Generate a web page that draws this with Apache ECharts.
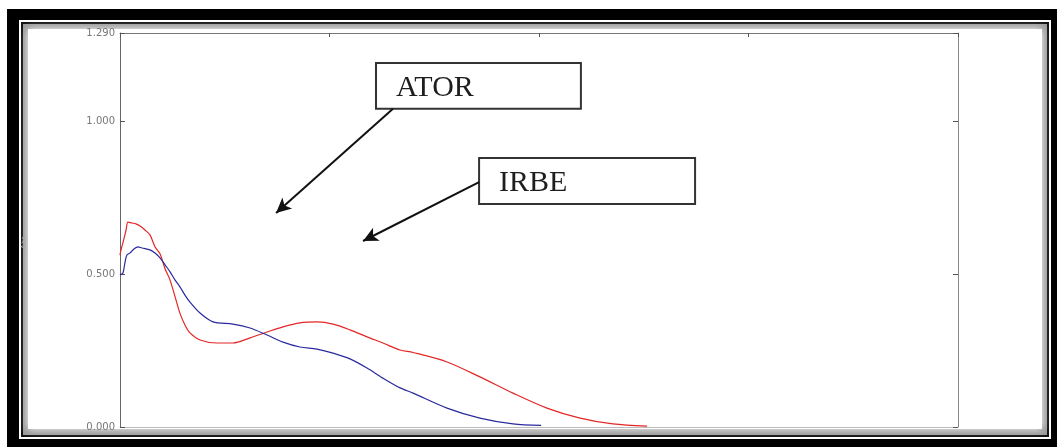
<!DOCTYPE html>
<html>
<head>
<meta charset="utf-8">
<script src="https://cdn.jsdelivr.net/npm/echarts@6/dist/echarts.min.js"></script>
<style>
  html, body { margin: 0; padding: 0; background: #fff; }
  #chart { width: 1057px; height: 447px; }
</style>
</head>
<body>
<div id="chart"></div>
<script>
// Absorbance traces of the two samples
const atorX = [0, 0.5, 1.4, 2.9, 3.8, 5.7, 7.6, 9.6, 11.9, 14.3, 16.7, 19.1, 21.5, 23.9, 26.3, 28.6, 31.0, 33.4, 38.2, 46.3, 53.9, 62.1, 70.2, 77.8, 85.9, 94.0, 101.7, 109.8, 117.9, 125.5, 133.7, 139.9, 156.1, 171.8, 187.6, 203.8, 219.6, 235.3, 251.6];
const atorY = [0.563, 0.580, 0.603, 0.645, 0.671, 0.668, 0.665, 0.658, 0.645, 0.629, 0.590, 0.567, 0.518, 0.481, 0.426, 0.373, 0.334, 0.308, 0.285, 0.275, 0.275, 0.292, 0.311, 0.328, 0.341, 0.344, 0.337, 0.318, 0.295, 0.275, 0.252, 0.244, 0.213, 0.164, 0.111, 0.062, 0.029, 0.010, 0.003];

const irbeX = [0, 1.4, 2.4, 3.3, 4.8, 6.7, 8.6, 10.5, 14.3, 16.7, 19.1, 21.5, 23.9, 26.3, 28.6, 31.0, 33.4, 38.2, 44.4, 53.9, 62.1, 70.2, 77.8, 85.9, 94.0, 101.7, 109.8, 117.9, 125.5, 133.7, 139.9, 156.1, 171.8, 187.6, 201.0];
const irbeY = [0.498, 0.504, 0.540, 0.563, 0.570, 0.583, 0.590, 0.586, 0.580, 0.570, 0.554, 0.531, 0.508, 0.481, 0.459, 0.432, 0.409, 0.373, 0.344, 0.337, 0.324, 0.301, 0.278, 0.262, 0.255, 0.242, 0.223, 0.193, 0.160, 0.128, 0.111, 0.062, 0.029, 0.010, 0.005];

const xTicks = { min: 0, max: 400, interval: 100 };
const yTicks = { min: 0, max: 1.29, interval: 0.5 };

// Callout boxes and arrows, in data units
const atorBox = [[122.2, 1.192], [220.0, 1.042]];
const atorArrow = [[130.3, 1.042], [74.5, 0.701]];
const irbeBox = [[171.4, 0.881], [274.5, 0.730]];
const irbeArrow = [[171.4, 0.802], [116.0, 0.609]];

const zip = (xs, ys) => xs.map((x, i) => [x, ys[i]]);

function callout(box, arrow, text) {
  return {
    markArea: {
      silent: true,
      itemStyle: { color: '#fff', borderColor: '#333', borderWidth: 2 },
      label: {
        show: true, position: 'insideLeft', offset: [16, 2],
        fontFamily: 'Liberation Serif', fontSize: 30, color: '#1e1e1e'
      },
      data: [[{ name: text, coord: box[0] }, { coord: box[1] }]]
    },
    markLine: {
      silent: true,
      symbol: ['none', 'arrow'],
      symbolSize: [11, 15],
      label: { show: false },
      lineStyle: { color: '#111', width: 2, type: 'solid' },
      data: [[{ coord: arrow[0] }, { coord: arrow[1] }]]
    }
  };
}

const chart = echarts.init(document.getElementById('chart'), null, { renderer: 'canvas' });

const axisFont = { fontFamily: 'DejaVu Sans', fontSize: 10, color: '#777' };

chart.setOption({
  animation: false,
  backgroundColor: '#fff',
  graphic: [
    { type: 'rect', z: -20, silent: true, shape: { x: 7, y: 9, width: 1050, height: 438 }, style: { fill: '#000' } },
    { type: 'rect', z: -19, silent: true, shape: { x: 19, y: 20, width: 1032, height: 419 }, style: { fill: '#fff' } },
    { type: 'rect', z: -18, silent: true, shape: { x: 21, y: 22, width: 1028, height: 415 }, style: { fill: '#111' } },
    { type: 'rect', z: -17, silent: true, shape: { x: 23, y: 24, width: 1024, height: 411 }, style: { fill: '#999' } },
    { type: 'rect', z: -16, silent: true, shape: { x: 28, y: 29, width: 1014, height: 400 }, style: { fill: '#fff', shadowBlur: 8, shadowColor: '#fff' } },
    { type: 'text', z: 5, silent: true, left: 21, top: 236, rotation: Math.PI / 2,
      style: { text: 'Abs', fill: '#aaa', fontSize: 7, fontFamily: 'DejaVu Sans' } }
  ],
  grid: { left: 120, top: 33, right: 99, bottom: 20, show: true, backgroundColor: '#fff', borderWidth: 0 },
  xAxis: [
    {
      type: 'value', position: 'bottom', ...xTicks,
      axisLine: { show: true, onZero: false, lineStyle: { color: '#bbb', width: 1 } },
      axisTick: { show: false }, axisLabel: { show: false }, splitLine: { show: false }
    },
    {
      type: 'value', position: 'top', ...xTicks,
      axisLine: { show: true, onZero: false, lineStyle: { color: '#777', width: 1 } },
      axisTick: { show: true, inside: true, length: 4, lineStyle: { color: '#555' } },
      axisLabel: { show: false }, splitLine: { show: false }
    }
  ],
  yAxis: [
    {
      type: 'value', position: 'left', ...yTicks,
      axisLine: { show: true, onZero: false, lineStyle: { color: '#666', width: 1 } },
      axisTick: { show: true, inside: true, length: 5, lineStyle: { color: '#555' } },
      axisLabel: { ...axisFont, margin: 5, formatter: v => v.toFixed(3) },
      splitLine: { show: false }
    },
    {
      type: 'value', position: 'right', ...yTicks,
      axisLine: { show: true, onZero: false, lineStyle: { color: '#888', width: 1 } },
      axisTick: { show: true, inside: true, length: 5, lineStyle: { color: '#555' } },
      axisLabel: { show: false }, splitLine: { show: false }
    }
  ],
  series: [
    {
      name: 'ATOR', type: 'line', xAxisIndex: 0, yAxisIndex: 0,
      data: zip(atorX, atorY), showSymbol: false, smooth: 0.3,
      lineStyle: { color: '#e32626', width: 1.2 },
      ...callout(atorBox, atorArrow, 'ATOR')
    },
    {
      name: 'IRBE', type: 'line', xAxisIndex: 0, yAxisIndex: 0,
      data: zip(irbeX, irbeY), showSymbol: false, smooth: 0.3,
      lineStyle: { color: '#2a2a9e', width: 1.2 },
      ...callout(irbeBox, irbeArrow, 'IRBE')
    }
  ]
});
</script>
</body>
</html>
